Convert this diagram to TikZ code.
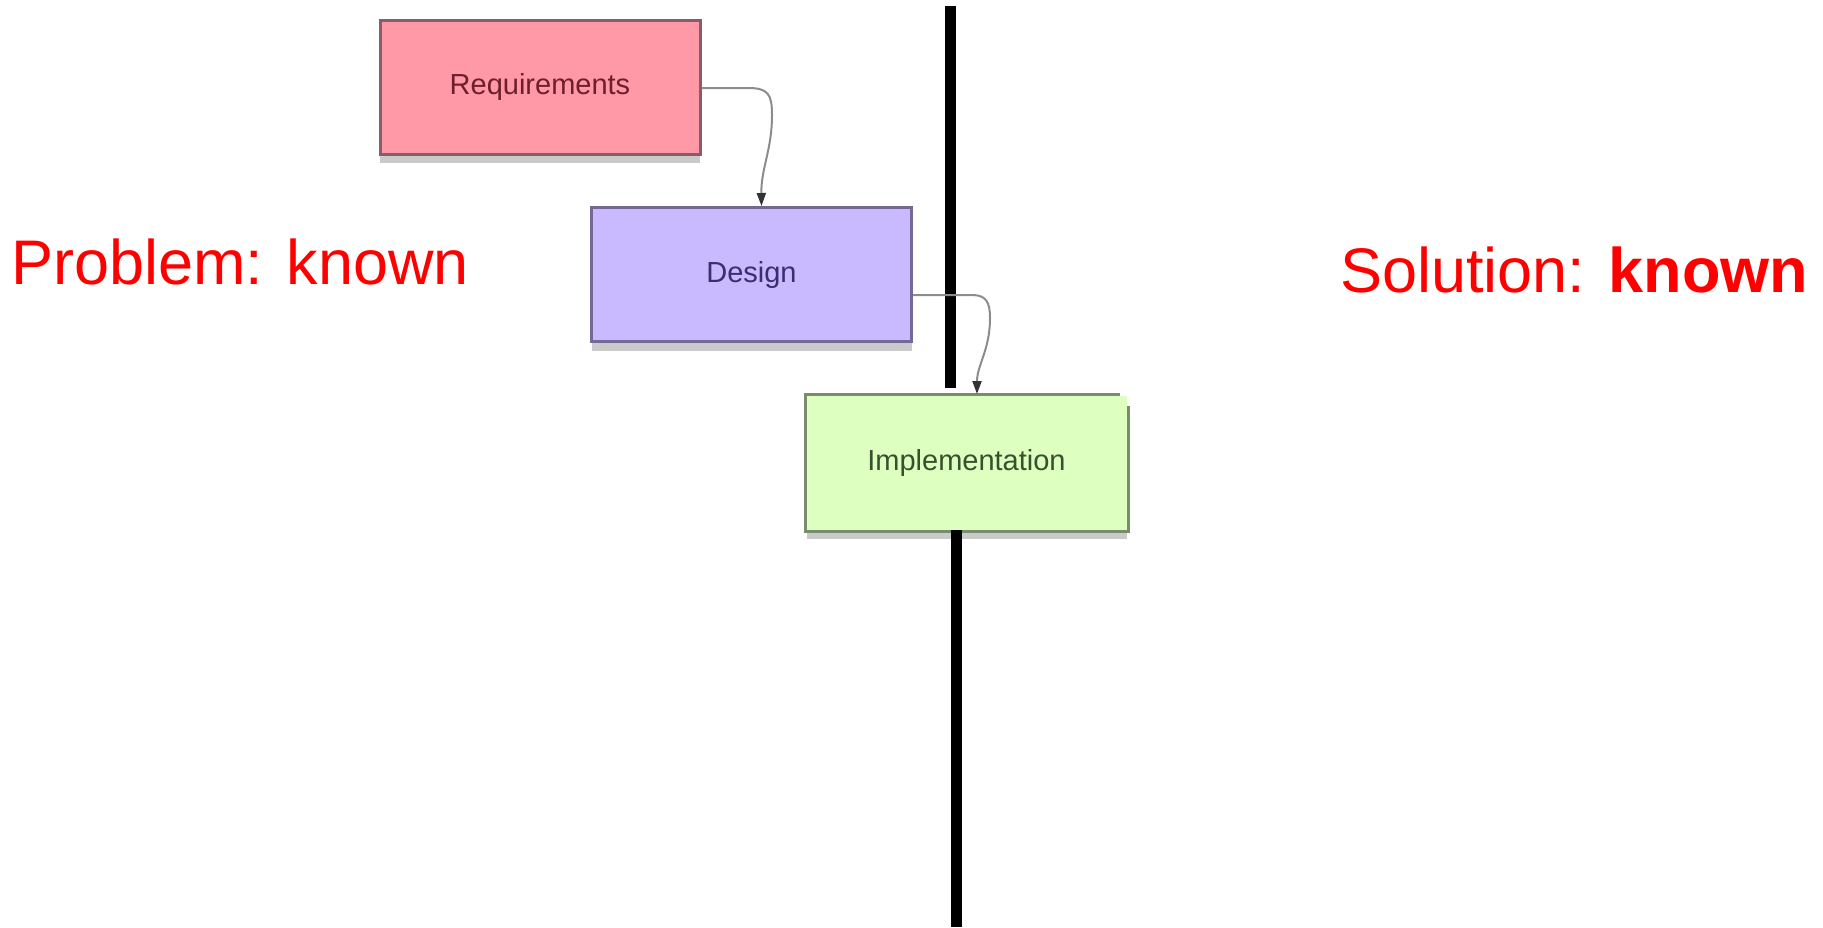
\documentclass[tikz,border=0pt]{standalone}
\usepackage{fontspec}
\setmainfont{Liberation Sans}
\usetikzlibrary{arrows.meta,shadows}

\definecolor{reqfill}{RGB}{255,152,167}
\definecolor{reqline}{RGB}{140,92,102}
\definecolor{reqtext}{RGB}{110,30,45}
\definecolor{desfill}{RGB}{201,186,255}
\definecolor{desline}{RGB}{118,104,150}
\definecolor{destext}{RGB}{60,45,110}
\definecolor{impfill}{RGB}{221,255,192}
\definecolor{impline}{RGB}{122,140,110}
\definecolor{imptext}{RGB}{55,80,45}
\definecolor{flowgray}{RGB}{140,140,140}
\definecolor{labelred}{RGB}{255,0,0}

\tikzset{
  phasebox/.style={rectangle, line width=3pt, minimum width=320pt,
    minimum height=134pt, inner sep=0pt, font=\fontsize{29}{32}\selectfont,
    drop shadow={shadow xshift=0pt, shadow yshift=-9pt, opacity=0.35, fill=black!60}},
  flow/.style={draw=flowgray, line width=2pt,
    -{Triangle[length=13pt,width=9pt,fill=black!80,color=black!80]}},
  divider/.style={line width=11pt, black},
  caption/.style={anchor=base west, inner sep=0pt, text=labelred,
    font=\fontsize{63}{70}\selectfont},
}

\begin{document}
\begin{tikzpicture}[x=1pt,y=-1pt]
  \useasboundingbox (0,0) rectangle (1823,927);

  % phases of the process
  \node[phasebox, fill=reqfill, draw=reqline, text=reqtext] (req) at (540,87) {Requirements};
  \node[phasebox, fill=desfill, draw=desline, text=destext] (des) at (751.5,274.5) {Design};
  \node[phasebox, fill=impfill, text=imptext] (imp) at (966.5,462.5) {Implementation};
  % border of the last box, open at its upper right corner
  \draw[impline, line width=3pt]
    ([xshift=-8pt]imp.north east) -- (imp.north west) -- (imp.south west)
    -- (imp.south east) -- ([yshift=-12pt]imp.north east);

  % dividing line, interrupted by the implementation box
  \coordinate (topA) at (950.5,6);
  \coordinate (topB) at (950.5,388);
  \coordinate (botA) at (956.5,530);
  \coordinate (botB) at (956.5,927);
  \draw[divider] (topA) -- (topB);
  \draw[divider] (botA) -- (botB);

  % connectors between the phases
  \draw[flow] ([yshift=-1pt]req.east) -- (748,88)
    .. controls (768,88) and (772,94) .. (772,115)
    .. controls (772,150) and (761,168) .. ([xshift=10pt]des.north);
  \draw[flow] ([yshift=-20.5pt]des.east) -- (972,295)
    .. controls (986,295) and (990,302) .. (990,318)
    .. controls (990,350) and (977,365) .. ([xshift=10.5pt]imp.north);

  % side labels
  \node[caption] (prob) at (11,284) {Problem: known};
  \node[caption] (sol) at (1340,292) {Solution: \textbf{known}};
\end{tikzpicture}
\end{document}
